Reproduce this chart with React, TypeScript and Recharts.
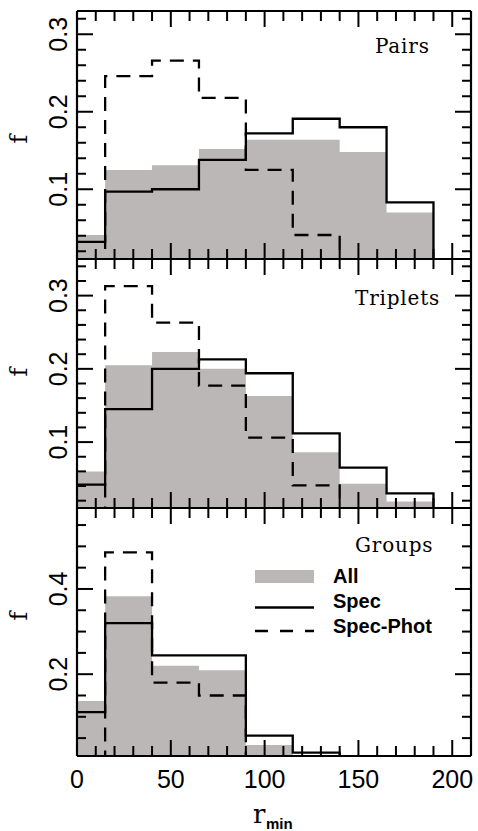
import type { ReactNode } from "react";
import { Area, ComposedChart, Line, ReferenceLine, XAxis, YAxis } from "recharts";

// bin edges of the r_min histogram (the last edge closes the final bin)
const binEdges = [0, 15, 40, 65, 90, 115, 140, 165, 190];

const pairsAll = [0.041, 0.125, 0.131, 0.152, 0.164, 0.164, 0.148, 0.07];
const pairsSpec = [0.032, 0.097, 0.1, 0.138, 0.172, 0.191, 0.18, 0.083];
const pairsSpecPhot = [0, 0.246, 0.266, 0.218, 0.125, 0.041, 0, 0];

const tripletsAll = [0.06, 0.205, 0.223, 0.2, 0.163, 0.086, 0.043, 0.019];
const tripletsSpec = [0.042, 0.145, 0.2, 0.213, 0.194, 0.112, 0.065, 0.03];
const tripletsSpecPhot = [0, 0.313, 0.263, 0.177, 0.106, 0.041, 0, 0];

const groupsAll = [0.137, 0.383, 0.22, 0.209, 0.034, 0, 0, 0];
const groupsSpec = [0.111, 0.32, 0.244, 0.244, 0.056, 0.016, 0, 0];
const groupsSpecPhot = [0, 0.486, 0.18, 0.15, 0, 0, 0, 0];

const xTicks = [0, 10, 20, 30, 40, 50, 60, 70, 80, 90, 100, 110, 120, 130, 140, 150, 160, 170, 180, 190, 200];
const xLabels = [0, 50, 100, 150, 200];

const pairsTicks = [0.02, 0.04, 0.06, 0.08, 0.1, 0.12, 0.14, 0.16, 0.18, 0.2, 0.22, 0.24, 0.26, 0.28, 0.3, 0.32];
const tripletsTicks = [0.02, 0.04, 0.06, 0.08, 0.1, 0.12, 0.14, 0.16, 0.18, 0.2, 0.22, 0.24, 0.26, 0.28, 0.3, 0.32, 0.34];
const fineLabels = [0.1, 0.2, 0.3];
const groupsTicks = [0.05, 0.1, 0.15, 0.2, 0.25, 0.3, 0.35, 0.4, 0.45, 0.5, 0.55];
const groupsLabels = [0.2, 0.4];

const GRAY = "#bcb7b7";
const INK = "#000";
const DASH = "14 9";
const frame = { stroke: INK, strokeWidth: 2.2 };
const sans = "'Liberation Sans', Arial, sans-serif";
const serif = "'DejaVu Serif', serif";

const CHART_W = 478;

const buildRows = (all: number[], spec: number[], phot: number[]) =>
  binEdges.map((x, i) => ({ x, all: all[i] ?? 0, spec: spec[i] ?? 0, phot: phot[i] ?? 0 }));

const hasValue = (list: number[], v: number) => list.some((l) => Math.abs(l - v) < 1e-6);

// Shape for a vertical ReferenceLine: only the inward ticks at the top and bottom edges.
function XTickPair(props: any) {
  const { x1, y1, y2, major } = props;
  const len = major ? 16 : 10;
  const yt = Math.min(y1, y2);
  const yb = Math.max(y1, y2);
  return (
    <g>
      <line x1={x1} x2={x1} y1={yt} y2={yt + len} stroke={INK} strokeWidth={2} />
      <line x1={x1} x2={x1} y1={yb} y2={yb - len} stroke={INK} strokeWidth={2} />
    </g>
  );
}

// Shape for a horizontal ReferenceLine: inward ticks at the left and right edges.
function YTickPair(props: any) {
  const { x1, x2, y1, major } = props;
  const len = major ? 16 : 9;
  const xl = Math.min(x1, x2);
  const xr = Math.max(x1, x2);
  return (
    <g>
      <line x1={xl} x2={xl + len} y1={y1} y2={y1} stroke={INK} strokeWidth={2} />
      <line x1={xr} x2={xr - len} y1={y1} y2={y1} stroke={INK} strokeWidth={2} />
    </g>
  );
}

function XTickLabel(props: any) {
  const { x, y, payload, showLabel } = props;
  const v = payload.value;
  if (!showLabel || !hasValue(xLabels, v)) return <g />;
  return (
    <text x={x} y={y + 32} textAnchor="middle" fontFamily={sans} fontSize={25} fill={INK}>
      {v}
    </text>
  );
}

function YTickLabel(props: any) {
  const { x, y, payload, labels } = props;
  const v = payload.value;
  if (!hasValue(labels, v)) return <g />;
  const lx = x - 10;
  return (
    <text
      x={lx}
      y={y}
      transform={`rotate(-90 ${lx} ${y})`}
      textAnchor="middle"
      fontFamily={sans}
      fontSize={25}
      fill={INK}
    >
      {v}
    </text>
  );
}

type PanelProps = {
  offset: number,
  height: number,
  top: number,
  axisHeight: number,
  domain: [number, number],
  yTicks: number[],
  yLabels: number[],
  all: number[],
  spec: number[],
  phot: number[],
  name: string,
  nameX: number,
  nameY: number,
  fY: number,
  children?: ReactNode,
};

function Panel(p: PanelProps) {
  const data = buildRows(p.all, p.spec, p.phot);
  const showLabels = p.axisHeight > 1;
  return (
    <div style={{ position: "absolute", left: 0, top: p.offset }}>
      <ComposedChart width={CHART_W} height={p.height} data={data} margin={{ top: p.top, right: 6, bottom: 0, left: 0 }}>
        <Area
          xAxisId="b"
          yAxisId="l"
          dataKey="all"
          type="stepAfter"
          fill={GRAY}
          fillOpacity={1}
          stroke="none"
          isAnimationActive={false}
          activeDot={false}
        />
        <Line
          xAxisId="b"
          yAxisId="l"
          dataKey="spec"
          type="stepAfter"
          stroke={INK}
          strokeWidth={2.3}
          dot={false}
          activeDot={false}
          isAnimationActive={false}
        />
        <Line
          xAxisId="b"
          yAxisId="l"
          dataKey="phot"
          type="stepAfter"
          stroke={INK}
          strokeWidth={2.3}
          strokeDasharray={DASH}
          dot={false}
          activeDot={false}
          isAnimationActive={false}
        />
        <Line xAxisId="t" yAxisId="r" dataKey="spec" stroke="none" dot={false} activeDot={false} isAnimationActive={false} />
        {xTicks.map((v) => (
          <ReferenceLine
            key={`xt-${v}`}
            xAxisId="b"
            yAxisId="l"
            x={v}
            zIndex={1500}
            shape={(s: any) => <XTickPair {...s} major={hasValue(xLabels, v)} />}
          />
        ))}
        {p.yTicks.map((v) => (
          <ReferenceLine
            key={`yt-${v}`}
            xAxisId="b"
            yAxisId="l"
            y={v}
            zIndex={1500}
            shape={(s: any) => <YTickPair {...s} major={hasValue(p.yLabels, v)} />}
          />
        ))}
        <XAxis
          xAxisId="b"
          dataKey="x"
          type="number"
          domain={[0, 210]}
          allowDataOverflow
          ticks={xTicks}
          interval={0}
          height={p.axisHeight}
          tickSize={0}
          tickMargin={0}
          tickLine={false}
          axisLine={frame}
          tick={(t: any) => <XTickLabel {...t} showLabel={showLabels} />}
        />
        <XAxis
          xAxisId="t"
          dataKey="x"
          orientation="top"
          type="number"
          domain={[0, 210]}
          allowDataOverflow
          height={1}
          tickLine={false}
          tick={false}
          axisLine={frame}
        />
        <YAxis
          yAxisId="l"
          type="number"
          domain={p.domain}
          allowDataOverflow
          ticks={p.yTicks}
          interval={0}
          width={77}
          tickSize={0}
          tickMargin={0}
          tickLine={false}
          axisLine={frame}
          tick={(t: any) => <YTickLabel {...t} labels={p.yLabels} />}
        />
        <YAxis
          yAxisId="r"
          orientation="right"
          type="number"
          domain={p.domain}
          allowDataOverflow
          width={1}
          tickLine={false}
          tick={false}
          axisLine={frame}
        />
        <text x={p.nameX} y={p.nameY} fontFamily={serif} fontSize={20} letterSpacing={0.8} fill={INK}>
          {p.name}
        </text>
        <text
          x={27}
          y={p.fY}
          transform={`rotate(-90 27 ${p.fY})`}
          textAnchor="middle"
          fontFamily={serif}
          fontSize={24}
          fill={INK}
        >
          f
        </text>
        {p.children}
      </ComposedChart>
    </div>
  );
}

export default function App() {
  return (
    <div style={{ position: "absolute", left: 0, top: 0, width: CHART_W, height: 831, background: "#fff" }}>
      <Panel
        offset={0}
        height={260}
        top={10}
        axisHeight={1}
        domain={[0.01, 0.33]}
        yTicks={pairsTicks}
        yLabels={fineLabels}
        all={pairsAll}
        spec={pairsSpec}
        phot={pairsSpecPhot}
        name="Pairs"
        nameX={375}
        nameY={53}
        fY={139}
      />
      <Panel
        offset={258}
        height={251}
        top={0}
        axisHeight={1}
        domain={[0.01, 0.35]}
        yTicks={tripletsTicks}
        yLabels={fineLabels}
        all={tripletsAll}
        spec={tripletsSpec}
        phot={tripletsSpecPhot}
        name="Triplets"
        nameX={355}
        nameY={47}
        fY={114}
      />
      <Panel
        offset={507}
        height={324}
        top={0}
        axisHeight={75}
        domain={[0.008, 0.59]}
        yTicks={groupsTicks}
        yLabels={groupsLabels}
        all={groupsAll}
        spec={groupsSpec}
        phot={groupsSpecPhot}
        name="Groups"
        nameX={355}
        nameY={45}
        fY={109}
      >
        <rect x={255} y={63} width={59} height={13} fill={GRAY} />
        <line x1={255} x2={314} y1={100.5} y2={100.5} stroke={INK} strokeWidth={2.3} />
        <line x1={255} x2={314} y1={124} y2={124} stroke={INK} strokeWidth={2.3} strokeDasharray="13 12" />
        <g fontFamily={sans} fontWeight="bold" fontSize={20} fill={INK}>
          <text x={333} y={76}>All</text>
          <text x={333} y={101}>Spec</text>
          <text x={333} y={126}>Spec-Phot</text>
        </g>
        <text x={253} y={316} fontFamily={serif} fontSize={26} fill={INK}>
          r
        </text>
        <text x={266} y={322} fontFamily={sans} fontWeight="bold" fontSize={15} fill={INK}>
          min
        </text>
      </Panel>
    </div>
  );
}
